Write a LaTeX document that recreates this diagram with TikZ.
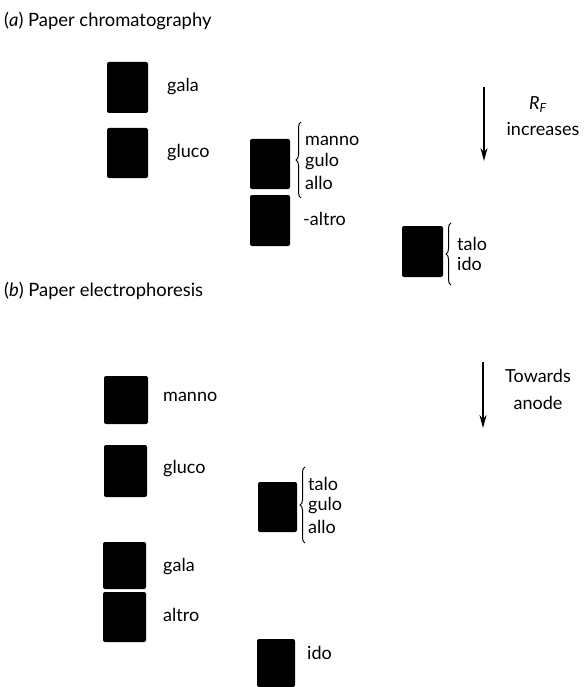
\documentclass[tikz,border=0pt]{standalone}
\usepackage{fontspec}
\setmainfont{Lato}
\usetikzlibrary{decorations.pathreplacing,arrows.meta}
\begin{document}
\begin{tikzpicture}[x=1pt,y=-1pt,
  spot/.style={fill=black,rounded corners=2pt,draw=none},
  lbl/.style={anchor=west,inner sep=0pt,font=\fontsize{18}{20}\selectfont},
  ttl/.style={anchor=west,inner sep=0pt,font=\fontsize{18.4}{21}\selectfont},
  brc/.style={decorate,decoration={brace,amplitude=5pt},line width=1pt},
  dir/.style={line width=1.4pt,-{Stealth[length=13pt,width=7pt]}}]
\useasboundingbox (0,0) rectangle (583,687);

% (a) paper chromatography
\node[ttl] (ta) at (4,21) {(\textit{a}) Paper chromatography};
\fill[spot] (107,62) rectangle (148,113);
\node[lbl] (agala) at (167,87) {gala};
\fill[spot] (107,128) rectangle (148,178);
\node[lbl] (agluco) at (167,153) {gluco};
\fill[spot] (250,139) rectangle (290,189);
\draw[brc] (301,198) -- (301,122);
\node[lbl] (amanno) at (305,141) {manno};
\node[lbl] (agulo) at (305,162) {gulo};
\node[lbl] (aallo) at (305,183) {allo};
\fill[spot] (250,195) rectangle (290,246);
\node[lbl] (aaltro) at (303,219) {-altro};
\fill[spot] (402,226) rectangle (443,277);
\draw[brc] (451,285) -- (451,223);
\node[lbl] (atalo) at (457,244) {talo};
\node[lbl] (aido) at (457,264) {ido};

\coordinate (rf1) at (484,87);
\coordinate (rf2) at (484,161);
\draw[dir] (rf1) -- (rf2);
\node[lbl,anchor=center] (rf) at (538,105) {\textit{R}\textsubscript{\textit{F}}};
\node[lbl,anchor=center] (inc) at (543,129) {increases};

% (b) paper electrophoresis
\node[ttl] (tb) at (4,291) {(\textit{b}) Paper electrophoresis};
\fill[spot] (104,376) rectangle (148,424);
\node[lbl] (bmanno) at (163,397) {manno};
\fill[spot] (104,445) rectangle (147,497);
\node[lbl] (bgluco) at (163,469) {gluco};
\fill[spot] (258,482) rectangle (297,532);
\draw[brc] (305,543) -- (305,467);
\node[lbl] (btalo) at (308,484) {talo};
\node[lbl] (bgulo) at (308,506) {gulo};
\node[lbl] (ballo) at (308,527) {allo};
\fill[spot] (103,542) rectangle (146,589);
\node[lbl] (bgala) at (163,567) {gala};
\fill[spot] (103,592) rectangle (146,642);
\node[lbl] (baltro) at (163,615) {altro};
\fill[spot] (257,639) rectangle (295,687);
\node[lbl] (bido) at (307,653) {ido};

\coordinate (an1) at (483,362);
\coordinate (an2) at (483,428);
\draw[dir] (an1) -- (an2);
\node[lbl,anchor=center] (tow) at (538,376) {Towards};
\node[lbl,anchor=center] (ano) at (538,403) {anode};
\end{tikzpicture}
\end{document}
